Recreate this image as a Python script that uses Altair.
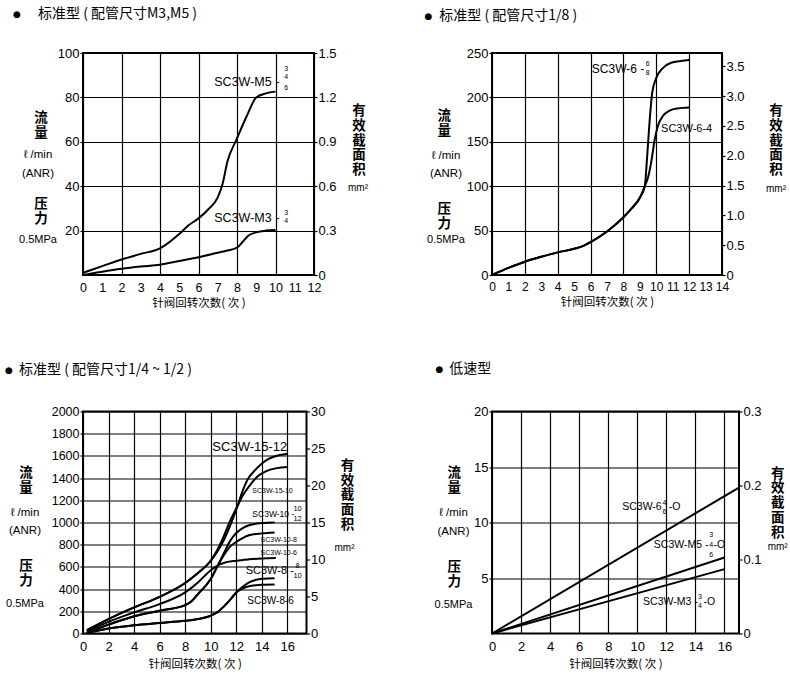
import altair as alt
import pandas as pd

LAT = "Liberation Sans, Arial, Helvetica, sans-serif"
CJK = "Noto Sans CJK SC, sans-serif"
BULLET_FONT = "DejaVu Sans, sans-serif"

X_TITLE = "针阀回转次数( 次 )"
FLOW = "流\n量"
UNIT = "ℓ /min\n(ANR)"
PRESS = "压\n力"
MPA = "0.5MPa"
AREA = "有\n效\n截\n面\n积"
MM2 = "mm²"
BULLET = "●"

# ---------------- Panel 1: 标准型（配管尺寸M3,M5） ----------------
p1_title = "标准型 ( 配管尺寸M3,M5 )"
p1_xticks = list(range(0, 13))
p1_yticks = [20, 40, 60, 80, 100]
p1_rticks = [0, 0.3, 0.6, 0.9, 1.2, 1.5]
p1_m5_x = [0, 1, 2, 3, 4, 5, 5.5, 6, 6.5, 7, 7.25, 7.5, 8, 8.5, 9, 9.5, 10]
p1_m5_y = [1, 4, 7, 9.5, 12, 18.5, 22.5, 25.5, 29.5, 35, 41, 51, 61.5, 71.5, 80, 81.8, 82.6]
p1_m3_x = [0, 1, 2, 3, 4, 5, 6, 7, 7.5, 8, 8.3, 8.6, 9, 9.5, 10]
p1_m3_y = [0, 1.5, 2.8, 3.8, 4.6, 6.3, 8.0, 10, 11, 12.3, 15, 17.8, 19.2, 20, 20.3]
p1_lbl_text = ["SC3W-M5 -", "SC3W-M3 -"]
p1_lbl_x = [10.2, 10.2]
p1_lbl_y = [86.9, 25.8]
p1_frac_text = ["3", "4", "6", "3", "4"]
p1_frac_x = [10.55, 10.55, 10.55, 10.55, 10.55]
p1_frac_y = [92.8, 89.3, 84.2, 27.9, 24.3]

# ---------------- Panel 2: 标准型（配管尺寸1/8） ----------------
p2_title = "标准型 ( 配管尺寸1/8 )"
p2_xticks = list(range(0, 15))
p2_yticks = [0, 50, 100, 150, 200, 250]
p2_rticks = [0, 0.5, 1.0, 1.5, 2.0, 2.5, 3.0, 3.5]
p2_68_x = [0, 1, 2, 3, 4, 5, 5.6, 6, 7, 8, 8.5, 9, 9.3, 9.45, 9.6, 9.75, 10.0, 10.4, 10.9, 11.5, 12]
p2_68_y = [0, 8, 15, 20.5, 25.5, 29.5, 33, 37, 49, 65, 75, 87, 100, 135, 175, 205, 222, 233, 239, 241, 242]
p2_64_x = [0, 1, 2, 3, 4, 5, 5.6, 6, 7, 8, 8.5, 9, 9.3, 9.5, 9.7, 9.9, 10.1, 10.4, 10.8, 11.3, 12]
p2_64_y = [0, 8, 15, 20.5, 25.5, 29.5, 33, 37, 49, 65, 75, 87, 100, 110, 128, 152, 168, 179, 185, 187.5, 188.5]
p2_lbl_a_text = ["SC3W-6 -"]
p2_lbl_a_x = [9.27]
p2_lbl_a_y = [232]
p2_lbl_b_text = ["SC3W-6-4"]
p2_lbl_b_x = [10.29]
p2_lbl_b_y = [164.4]
p2_frac_text = ["6", "8"]
p2_frac_x = [9.47, 9.47]
p2_frac_y = [237.6, 227.5]

# ---------------- Panel 3: 标准型（配管尺寸1/4 ~ 1/2） ----------------
p3_title = "标准型 ( 配管尺寸1/4 ~ 1/2 )"
p3_xticks = list(range(0, 17, 2))
p3_yticks = list(range(0, 2001, 200))
p3_rticks = [0, 5, 10, 15, 20, 25, 30]
p3_1512_x = [0.3, 2, 4, 6, 8, 9, 10, 10.5, 11, 11.5, 12.1, 12.5, 12.9, 13.4, 14.4, 15, 16]
p3_1512_y = [30, 130, 235, 330, 455, 545, 655, 735, 835, 965, 1150, 1285, 1390, 1463, 1565, 1595, 1620]
p3_1510_x = [0.3, 2, 4, 6, 8, 9, 10, 10.5, 11, 11.5, 12.1, 12.5, 13, 13.7, 14.4, 15.2, 16]
p3_1510_y = [30, 130, 235, 330, 455, 545, 655, 750, 870, 1010, 1150, 1240, 1325, 1418, 1465, 1490, 1500]
p3_1012_x = [0.3, 2, 4, 6, 8, 8.5, 9, 10, 10.5, 11, 11.5, 12, 12.5, 13, 14, 15]
p3_1012_y = [10, 80, 155, 205, 255, 290, 355, 490, 600, 716, 830, 905, 950, 975, 995, 1000]
p3_108_x = [0.3, 2, 4, 6, 8, 8.5, 9, 10, 10.5, 11, 11.5, 12, 12.5, 13, 14, 15]
p3_108_y = [10, 80, 155, 205, 255, 290, 355, 490, 600, 700, 780, 825, 860, 885, 902, 910]
p3_106_x = [0.3, 2, 4, 6, 8, 9, 10, 10.5, 11, 12, 13, 14, 15.1]
p3_106_y = [20, 105, 190, 265, 370, 460, 570, 610, 635, 656, 668, 676, 680]
p3_88_x = [0.3, 2, 4, 6, 8, 9, 10, 10.5, 11, 11.5, 12, 12.5, 13, 13.5, 14, 15]
p3_88_y = [5, 45, 75, 95, 115, 130, 160, 190, 240, 300, 370, 420, 460, 482, 493, 498]
p3_86_x = [0.3, 2, 4, 6, 8, 9, 10, 10.5, 11, 11.5, 12, 12.5, 13, 13.5, 14, 15]
p3_86_y = [5, 45, 75, 95, 115, 130, 160, 190, 240, 300, 370, 405, 425, 435, 440, 442]
p3_big_text = ["SC3W-15-12"]
p3_big_x = [10.13]
p3_big_y = [1683]
p3_mid_text = ["SC3W-8 -"]
p3_mid_x = [12.74]
p3_mid_y = [564]
p3_86_lbl_text = ["SC3W-8-6"]
p3_86_lbl_x = [12.87]
p3_86_lbl_y = [290]
p3_small_text = ["SC3W-10 -"]
p3_small_x = [13.26]
p3_small_y = [1080]
p3_tiny_text = ["SC3W-15-10", "SC3W-10-8", "SC3W-10-6"]
p3_tiny_x = [13.26, 13.9, 13.9]
p3_tiny_y = [1282, 838, 724]
p3_frac_text = ["10", "12", "8", "10"]
p3_frac_x = [16.8, 16.8, 16.8, 16.8]
p3_frac_y = [1122, 1032, 609, 522]

# ---------------- Panel 4: 低速型 ----------------
p4_title = "低速型"
p4_xticks = list(range(0, 17, 2))
p4_yticks = [5, 10, 15, 20]
p4_rticks = [0, 0.1, 0.2, 0.3]
p4_6o_x = [0, 17]
p4_6o_y = [0, 13.15]
p4_m5_x = [0, 16]
p4_m5_y = [0, 6.85]
p4_m3_x = [0, 16]
p4_m3_y = [0, 5.8]
p4_lbl_text = ["SC3W-6", "SC3W-M5 -", "SC3W-M3 -"]
p4_lbl_x = [11.68, 14.9, 14.16]
p4_lbl_y = [11.37, 7.97, 2.86]
p4_o_text = ["-O", "-O", "-O"]
p4_o_x = [12.17, 15.24, 14.55]
p4_o_y = [11.37, 7.97, 2.86]
p4_frac_text = ["4", "6", "3", "4", "6", "3", "4"]
p4_frac_x = [11.87, 11.87, 15.08, 15.08, 15.08, 14.32, 14.32]
p4_frac_y = [11.8, 10.95, 8.87, 7.97, 7.1, 3.25, 2.47]

ONE = pd.DataFrame({"k": [0]})
RIGHT_EXPR = "datum.value == 0 ? '0' : format(datum.value, '.1f')"
H = 222


def ptext(text, px, py, size, font=CJK, weight="normal", align="center", lh=None):
    kw = dict(text=text, align=align, baseline="middle", fontSize=size, font=font,
              fontWeight=weight, color="black")
    if "\n" in text:
        kw["lineBreak"] = "\n"
        kw["lineHeight"] = lh
    return alt.Chart(ONE).mark_text(**kw).encode(x=alt.value(px), y=alt.value(py))


def side(W, lx_cjk, lx_lat, y_flow, y_unit, lh_unit, y_press, y_mpa, r_off, y_area, mm_off, y_mm):
    # y values give the position of the first line of each block
    return [
        ptext(FLOW, lx_cjk, y_flow, 13.5, CJK, "bold", lh=15),
        ptext(UNIT, lx_lat, y_unit, 11.5, LAT, lh=lh_unit),
        ptext(PRESS, lx_cjk, y_press, 13.5, CJK, "bold", lh=15),
        ptext(MPA, lx_lat, y_mpa, 11, LAT),
        ptext(AREA, W + r_off, y_area, 13.5, CJK, "bold", lh=14.8),
        ptext(MM2, W + mm_off, y_mm, 10, LAT),
    ]


def heading(title, bx, tx, ty):
    return [ptext(BULLET, bx, ty, 9, BULLET_FONT), ptext(title, tx, ty, 14, CJK, align="left")]


def panel(series, W, xdom, xticks, xgrid, ydom, yticks, rdom, rticks, rexpr,
          labels, decor, ylabsize=13, xlabsize=13, xlabpad=6, xtitlepad=4):
    xs = alt.Scale(domain=xdom, nice=False, zero=False)
    ys = alt.Scale(domain=ydom, nice=False, zero=False)
    xaxis = alt.Axis(
        values=xticks, title=X_TITLE, grid=True, gridColor="black", gridWidth=1.2,
        gridOpacity={"condition": {"test": f"datum.value % {xgrid} === 0", "value": 1}, "value": 0},
        domain=False, ticks=False, labelPadding=xlabpad, labelFontSize=xlabsize, labelFont=LAT,
        labelColor="black", labelFlush=False, labelOverlap=False,
        titleFont=CJK, titleFontSize=11.5, titleFontWeight="normal", titleColor="black",
        titlePadding=xtitlepad)
    yaxis = alt.Axis(
        values=yticks, title=None, grid=True, gridColor="black", gridWidth=1.2,
        domain=False, ticks=True, tickSize=3, tickColor="black", tickWidth=1.2,
        labelPadding=1, labelFontSize=ylabsize, labelFont=LAT, labelColor="black",
        format="d", labelFlush=False, labelOverlap=False)
    rows = []
    for name, xv, yv in series:
        for i, (a, b) in enumerate(zip(xv, yv)):
            rows.append({"series": name, "i": i, "x": a, "y": b})
    df = pd.DataFrame(rows)
    lines = alt.Chart(df).mark_line(interpolate="monotone", color="black", strokeWidth=2).encode(
        x=alt.X("x:Q", scale=xs, axis=xaxis),
        y=alt.Y("y:Q", scale=ys, axis=yaxis),
        detail="series:N", order="i:Q")
    text_layers = []
    for texts, txs, tys, size, align in labels:
        tdf = pd.DataFrame({"t": texts, "x": txs, "y": tys})
        text_layers.append(
            alt.Chart(tdf).mark_text(align=align, baseline="middle", fontSize=size, font=LAT,
                                     color="black").encode(
                x=alt.X("x:Q", scale=xs, axis=xaxis),
                y=alt.Y("y:Q", scale=ys, axis=yaxis),
                text="t:N"))
    right = alt.Chart(pd.DataFrame({"r": rticks})).mark_point(opacity=0).encode(
        y=alt.Y("r:Q", scale=alt.Scale(domain=rdom, nice=False, zero=False), axis=alt.Axis(
            orient="right", values=rticks, title=None, grid=False, domain=False,
            tickSize=3, tickColor="black", tickWidth=1.2, labelPadding=1, labelFontSize=13,
            labelFont=LAT, labelColor="black", labelExpr=rexpr, labelFlush=False,
            labelOverlap=False)))
    inner = alt.layer(lines, *text_layers, *decor)
    return alt.layer(inner, right).resolve_scale(y="independent").properties(width=W, height=H)


# ---- Panel 1 ----
W1 = 231
anchor = alt.Chart(ONE).mark_rule(opacity=0).encode(
    x=alt.value(-82), x2=alt.value(-81), y=alt.value(-52), y2=alt.value(-51))
p1 = panel(
    [("M5", p1_m5_x, p1_m5_y), ("M3", p1_m3_x, p1_m3_y)], W1, [0, 12], p1_xticks, 2,
    [0, 100], p1_yticks, [0, 1.5], p1_rticks, RIGHT_EXPR,
    [(p1_lbl_text, p1_lbl_x, p1_lbl_y, 12.5, "right"),
     (p1_frac_text, p1_frac_x, p1_frac_y, 7, "center")],
    [anchor] + heading(p1_title, -66, -45, -39.3)
    + side(W1, -42, -45, 65, 102, 19, 151, 187, 45, 58, 44, 135),
    xlabsize=12.5)

# ---- Panel 2 ----
W2 = 230
p2 = panel(
    [("6-8", p2_68_x, p2_68_y), ("6-4", p2_64_x, p2_64_y)], W2, [0, 14], p2_xticks, 2,
    [0, 250], p2_yticks, [0, 3.724], p2_rticks, RIGHT_EXPR,
    [(p2_lbl_a_text, p2_lbl_a_x, p2_lbl_a_y, 12, "right"),
     (p2_lbl_b_text, p2_lbl_b_x, p2_lbl_b_y, 11, "left"),
     (p2_frac_text, p2_frac_x, p2_frac_y, 7, "center")],
    heading(p2_title, -63.7, -52.7, -37.3)
    + side(W2, -47.7, -46, 63, 103, 17.7, 155.7, 187.3, 54, 58, 54, 136),
    xlabsize=12)

# ---- Panel 3 ----
W3 = 223.5
p3 = panel(
    [("15-12", p3_1512_x, p3_1512_y), ("15-10", p3_1510_x, p3_1510_y),
     ("10-12", p3_1012_x, p3_1012_y), ("10-8", p3_108_x, p3_108_y),
     ("10-6", p3_106_x, p3_106_y), ("8-8", p3_88_x, p3_88_y), ("8-6", p3_86_x, p3_86_y)],
    W3, [0, 17.5], p3_xticks, 2, [0, 2000], p3_yticks, [0, 30], p3_rticks,
    "format(datum.value, 'd')",
    [(p3_big_text, p3_big_x, p3_big_y, 13, "left"),
     (p3_mid_text, p3_mid_x, p3_mid_y, 11, "left"),
     (p3_86_lbl_text, p3_86_lbl_x, p3_86_lbl_y, 10, "left"),
     (p3_small_text, p3_small_x, p3_small_y, 8.5, "left"),
     (p3_tiny_text, p3_tiny_x, p3_tiny_y, 7, "left"),
     (p3_frac_text, p3_frac_x, p3_frac_y, 7.5, "center")],
    heading(p3_title, -74, -64, -41.7)
    + side(W3, -57, -58, 61, 101, 18.3, 154.3, 192.6, 41, 54.3, 38, 136),
    ylabsize=12.5, xlabpad=7, xtitlepad=5)

# ---- Panel 4 ----
W4 = 247
p4 = panel(
    [("6-O", p4_6o_x, p4_6o_y), ("M5-O", p4_m5_x, p4_m5_y), ("M3-O", p4_m3_x, p4_m3_y)],
    W4, [0, 17], p4_xticks, 2, [0, 20], p4_yticks, [0, 0.3], p4_rticks, RIGHT_EXPR,
    [(p4_lbl_text, p4_lbl_x, p4_lbl_y, 10.5, "right"),
     (p4_o_text, p4_o_x, p4_o_y, 10.5, "left"),
     (p4_frac_text, p4_frac_x, p4_frac_y, 7, "center")],
    heading(p4_title, -52.7, -42.7, -42.3)
    + side(W4, -37.7, -38.5, 61.7, 101.7, 19, 155, 193.3, 38.7, 62, 38.7, 135),
    xlabpad=7, xtitlepad=5)

chart = alt.concat(
    p1, p2, p3, p4, columns=2, spacing={"row": 136.5, "column": 178}, bounds="flush"
).properties(
    padding=0, background="white"
).configure_view(
    stroke="black", strokeWidth=2
)

chart.save("out.html", embed_options={"renderer": "svg", "actions": False})
